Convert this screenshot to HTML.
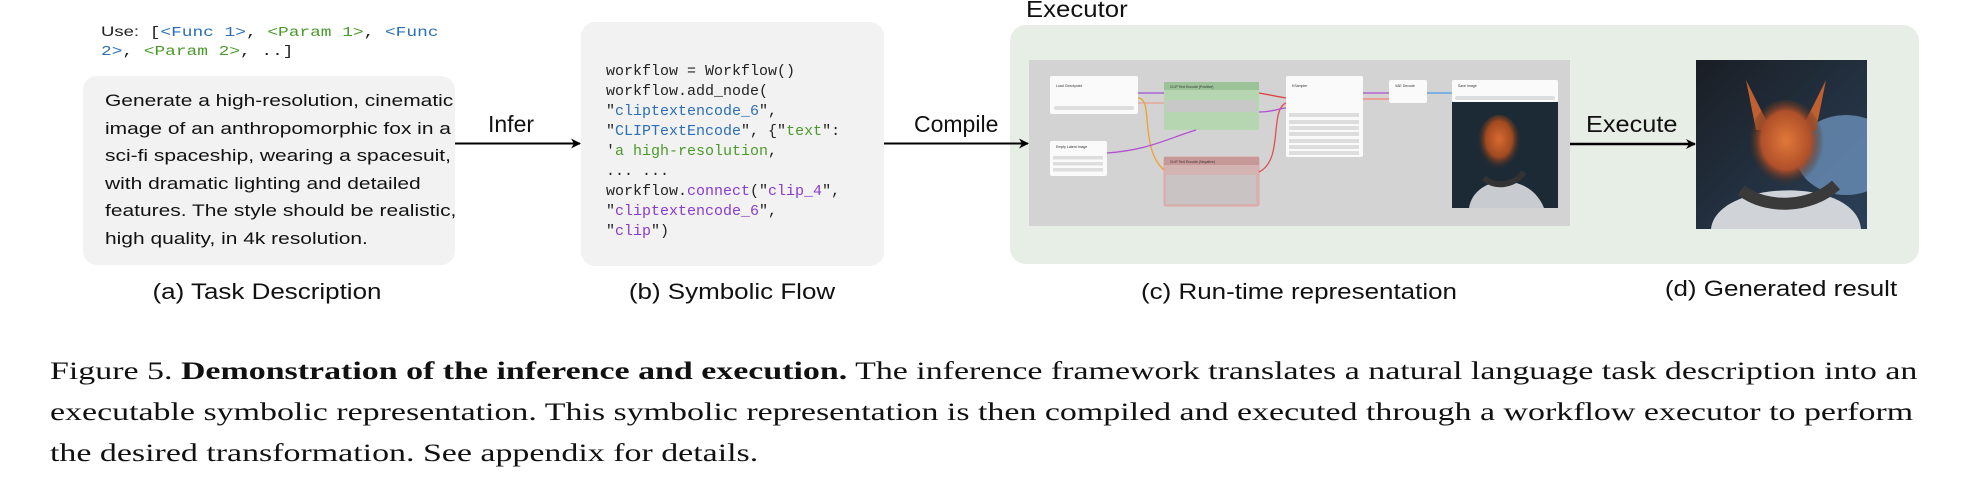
<!DOCTYPE html>
<html><head><meta charset="utf-8"><style>
body{margin:0;width:1978px;height:484px;background:#fff;position:relative;overflow:hidden;font-family:"Liberation Sans",sans-serif;}
.a{position:absolute;}
.mono{font-family:"Liberation Mono",monospace;}
.cap{font-size:22px;color:#111;white-space:nowrap;transform:translateX(-50%) scaleX(1.18);}
.lbl{font-size:23px;color:#111;white-space:nowrap;}
</style></head><body>
<div class="a mono" style="left:101px;top:22px;font-size:13.5px;line-height:19px;color:#222;white-space:nowrap;transform:scaleX(1.32);transform-origin:0 0;">
<span style="font-family:'Liberation Sans';font-size:14px">Use:</span> [<span style="color:#2a6fb8">&lt;Func 1&gt;</span>, <span style="color:#4a9a2a">&lt;Param 1&gt;</span>, <span style="color:#2a6fb8">&lt;Func</span><br><span style="color:#2a6fb8">2&gt;</span>, <span style="color:#4a9a2a">&lt;Param 2&gt;</span>, ..]</div>
<div class="a" style="left:83px;top:76px;width:372px;height:189px;background:#f2f2f2;border-radius:14px;"></div>
<div class="a" style="left:105px;top:88px;font-size:16.5px;line-height:27.5px;color:#111;white-space:nowrap;transform:scaleX(1.27);transform-origin:0 0;">Generate a high-resolution, cinematic<br>image of an anthropomorphic fox in a<br>sci-fi spaceship, wearing a spacesuit,<br>with dramatic lighting and detailed<br>features. The style should be realistic,<br>high quality, in 4k resolution.</div>
<div class="a cap" style="left:267px;top:279px;">(a) Task Description</div>

<div class="a" style="left:581px;top:22px;width:303px;height:244px;background:#f2f2f2;border-radius:14px;"></div>
<div class="a mono" style="left:606px;top:62px;font-size:15px;line-height:20px;color:#222;white-space:pre;">workflow = Workflow()
workflow.add_node(
"<span style="color:#2a6fb8">cliptextencode_6</span>",
"<span style="color:#2a6fb8">CLIPTextEncode</span>", {"<span style="color:#4a9a2a">text</span>":
'<span style="color:#4a9a2a">a high-resolution</span>,
... ...
workflow.<span style="color:#8a3ad0">connect</span>("<span style="color:#8a3ad0">clip_4</span>",
"<span style="color:#8a3ad0">cliptextencode_6</span>",
"<span style="color:#8a3ad0">clip</span>")</div>
<div class="a cap" style="left:732px;top:279px;">(b) Symbolic Flow</div>

<div class="a" style="left:1010px;top:25px;width:909px;height:239px;background:#e7eee6;border-radius:16px;"></div>

<div class="a lbl" style="left:488px;top:111px;">Infer</div>
<div class="a lbl" style="left:914px;top:111px;">Compile</div>
<div class="a lbl" style="left:1586px;top:111px;transform:scaleX(1.1);transform-origin:0 0;">Execute</div>
<div class="a lbl" style="left:1026px;top:-4px;font-size:23px;transform:scaleX(1.12);transform-origin:0 0;">Executor</div>
<svg class="a" style="left:0;top:0" width="1978" height="300">
<defs><marker id="ar" markerWidth="10" markerHeight="10" refX="9" refY="5" orient="auto" markerUnits="userSpaceOnUse"><path d="M0,0 L10,5 L0,10 L3,5z" fill="#000"/></marker></defs>
<line x1="455" y1="143.5" x2="580" y2="143.5" stroke="#000" stroke-width="2" marker-end="url(#ar)"/>
<line x1="884" y1="143.5" x2="1028" y2="143.5" stroke="#000" stroke-width="2" marker-end="url(#ar)"/>
<line x1="1570" y1="144" x2="1695" y2="144" stroke="#000" stroke-width="2.5" marker-end="url(#ar)"/>
</svg>
<svg class="a" style="left:1029px;top:60px" width="541" height="166" viewBox="0 0 541 166">
<rect width="541" height="166" fill="#d3d3d3"/>
<g font-family="Liberation Sans" font-size="3.5" fill="#333">
<rect x="21" y="16" width="88" height="38" fill="#fafafa" rx="2"/><text x="27" y="27">Load Checkpoint</text>
<rect x="25" y="46" width="80" height="4" fill="#ddd" rx="2"/>
<rect x="21" y="81" width="57" height="35" fill="#fafafa" rx="2"/><text x="27" y="88">Empty Latent Image</text>
<rect x="24" y="96" width="50" height="3.5" fill="#ddd"/><rect x="24" y="102" width="50" height="3.5" fill="#ddd"/><rect x="24" y="108" width="50" height="3.5" fill="#ddd"/>
<rect x="135" y="22" width="95" height="48" fill="#b6d5b1" rx="2"/><rect x="135" y="22" width="95" height="8" fill="#9cc298"/><text x="141" y="28">CLIP Text Encode (Positive)</text>
<rect x="137" y="40" width="90" height="12" fill="#c8c8c8"/>
<rect x="135" y="97" width="95" height="49" fill="#d4b3b3" stroke="#e4a3a3" rx="2"/><rect x="135" y="97" width="95" height="8" fill="#c79898"/><text x="141" y="103">CLIP Text Encode (Negative)</text>
<rect x="137" y="115" width="90" height="29" fill="#c9c3c3"/>
<rect x="257" y="16" width="77" height="81" fill="#fafafa" rx="2"/><text x="263" y="27">KSampler</text>
<g fill="#ddd"><rect x="260" y="53" width="70" height="4"/><rect x="260" y="60" width="70" height="4"/><rect x="260" y="66" width="70" height="4"/><rect x="260" y="72" width="70" height="4"/><rect x="260" y="79" width="70" height="4"/><rect x="260" y="85" width="70" height="4"/><rect x="260" y="91" width="70" height="4"/></g>
<rect x="360" y="20" width="38" height="23" fill="#fafafa" rx="2"/><text x="366" y="27">VAE Decode</text>
<rect x="423" y="20" width="106" height="22" fill="#fafafa" rx="2"/><text x="429" y="27">Save Image</text>
<rect x="426" y="36" width="100" height="4" fill="#ddd" rx="2"/>
</g>
<g fill="none" stroke-width="1.3">
<path d="M109,33 L135,33" stroke="#a050d0"/>
<path d="M109,38 C125,38 110,88 135,110" stroke="#f0a030"/>
<path d="M109,43 L135,43" stroke="#e8a090"/>
<path d="M78,93 C120,90 140,78 167,70" stroke="#b050d0"/>
<path d="M230,33 L257,38" stroke="#e04040"/>
<path d="M230,112 C255,100 240,50 257,43" stroke="#e05050"/>
<path d="M230,52 C245,52 250,48 257,48" stroke="#b050d0"/>
<path d="M334,33 L360,33" stroke="#b050d0"/>
<path d="M334,39 L360,39" stroke="#e8a090" stroke-width="2"/>
<path d="M398,33 L423,33" stroke="#4aa0ee"/>
</g>
<defs>
<radialGradient id="fx" cx="0.5" cy="0.4" r="0.5"><stop offset="0" stop-color="#d86a30"/><stop offset="0.6" stop-color="#a04a20"/><stop offset="1" stop-color="#3a2a20" stop-opacity="0"/></radialGradient>
</defs>
<rect x="423" y="42" width="106" height="106" fill="#1c2a36"/>
<ellipse cx="470" cy="85" rx="22" ry="30" fill="url(#fx)"/>
<path d="M440,148 C445,115 500,110 515,148Z" fill="#c8ccd0"/>
<path d="M455,118 C465,128 485,126 495,112" stroke="#333" stroke-width="6" fill="none"/>
</svg>
<svg class="a" style="left:1696px;top:60px" width="171" height="169" viewBox="0 0 171 169">
<defs>
<radialGradient id="fx2" cx="0.5" cy="0.45" r="0.5"><stop offset="0" stop-color="#e07838"/><stop offset="0.65" stop-color="#b0502a"/><stop offset="1" stop-color="#3a2a20" stop-opacity="0"/></radialGradient>
<linearGradient id="bg2" x1="0" y1="0" x2="1" y2="1"><stop offset="0" stop-color="#1a1e24"/><stop offset="1" stop-color="#2a4058"/></linearGradient>
</defs>
<rect width="171" height="169" fill="url(#bg2)"/>
<ellipse cx="150" cy="95" rx="50" ry="40" fill="#6a90b8" opacity="0.8"/>
<path d="M50,20 L70,60 L110,60 L130,20 L120,70 L60,70Z" fill="#c06030"/>
<ellipse cx="90" cy="85" rx="38" ry="45" fill="url(#fx2)"/>
<path d="M15,169 C20,120 160,115 165,169Z" fill="#d0d4d8"/>
<path d="M45,130 C70,150 115,148 140,125" stroke="#3a3a3a" stroke-width="12" fill="none"/>
</svg>
<div class="a cap" style="left:1299px;top:279px;">(c) Run-time representation</div>
<div class="a cap" style="left:1781px;top:276px;">(d) Generated result</div>
<div class="a" style="left:50px;top:350px;font-family:'Liberation Serif',serif;font-size:25.5px;line-height:41px;color:#111;white-space:nowrap;transform:scaleX(1.33);transform-origin:0 0;">Figure 5. <b>Demonstration of the inference and execution.</b> The inference framework translates a natural language task description into an<br>executable symbolic representation. This symbolic representation is then compiled and executed through a workflow executor to perform<br>the desired transformation. See appendix for details.</div>
</body></html>
